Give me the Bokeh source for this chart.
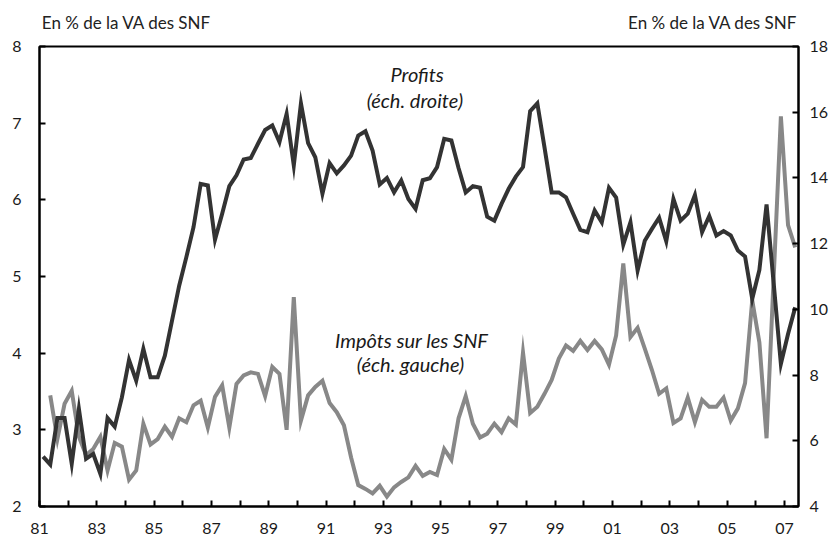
import math
from bokeh.plotting import figure
from bokeh.models import Range1d, LinearAxis, FixedTicker, Label
from bokeh.embed import file_html
from bokeh.resources import INLINE

# Quarterly data, 1981Q1 .. 2007Q2
start_year = 1981

# Profits, % of value added of non-financial corporations (right scale)
profits = [
    5.52, 5.28, 6.69, 6.69, 5.30, 6.97, 5.45, 5.60, 4.99, 6.69,
    6.43, 7.32, 8.46, 7.83, 8.80, 7.93, 7.93, 8.59, 9.66, 10.72,
    11.59, 12.50, 13.82, 13.77, 12.12, 12.91, 13.75, 14.08, 14.56, 14.61,
    15.04, 15.46, 15.60, 15.09, 15.95, 14.38, 16.27, 15.06, 14.63, 13.52,
    14.45, 14.14, 14.38, 14.68, 15.29, 15.42, 14.83, 13.80, 14.00, 13.56,
    13.92, 13.36, 13.06, 13.93, 13.99, 14.33, 15.19, 15.14, 14.30, 13.56,
    13.75, 13.70, 12.82, 12.70, 13.21, 13.67, 14.04, 14.33, 16.03, 16.27,
    14.93, 13.56, 13.56, 13.41, 12.91, 12.42, 12.35, 13.01, 12.65, 13.70,
    13.40, 11.97, 12.65, 11.18, 12.09, 12.45, 12.79, 12.07, 13.36, 12.70,
    12.91, 13.48, 12.35, 12.84, 12.25, 12.38, 12.25, 11.79, 11.61, 10.32,
    11.20, 13.19, 10.78, 8.34, 9.25, 10.06,
]

# Taxes on non-financial corporations (left scale)
impots = [
    float("nan"), 3.45, 2.88, 3.34, 3.51, 2.91, 2.67, 2.75, 2.91, 2.47,
    2.83, 2.78, 2.35, 2.47, 3.08, 2.81, 2.88, 3.04, 2.91, 3.15,
    3.10, 3.32, 3.38, 3.03, 3.43, 3.58, 3.03, 3.60, 3.71, 3.75,
    3.73, 3.44, 3.82, 3.73, 3.00, 4.73, 3.12, 3.45, 3.56, 3.64,
    3.35, 3.23, 3.06, 2.64, 2.28, 2.23, 2.17, 2.27, 2.13, 2.25,
    2.32, 2.38, 2.53, 2.40, 2.45, 2.41, 2.75, 2.61, 3.15, 3.44,
    3.08, 2.90, 2.95, 3.08, 2.97, 3.15, 3.07, 4.01, 3.22, 3.30,
    3.47, 3.65, 3.93, 4.10, 4.03, 4.16, 4.04, 4.16, 4.05, 3.85,
    4.23, 5.17, 4.21, 4.33, 4.06, 3.78, 3.47, 3.54, 3.09, 3.15,
    3.42, 3.10, 3.39, 3.30, 3.30, 3.42, 3.12, 3.28, 3.61, 4.69,
    4.14, 2.89, 5.00, 7.09, 5.67, 5.38,
]

x_ticks = list(range(1981, 2008, 2))
x_minor_ticks = list(range(1982, 2007, 2))
x_tick_labels = ["81", "83", "85", "87", "89", "91", "93", "95", "97", "99",
                 "01", "03", "05", "07"]
left_ticks = [2, 3, 4, 5, 6, 7, 8]
right_ticks = [4, 6, 8, 10, 12, 14, 16, 18]

unit_text = "En % de la VA des SNF"

# quarter mid-points on a time axis
quarters = [start_year + (i + 0.5) / 4 for i in range(len(profits))]

FONT = "Lato"
DARK = "#333333"
GREY = "#888888"

p = figure(frame_width=759, frame_height=460,
           x_range=Range1d(1981, 2007.49), y_range=Range1d(2, 8),
           output_backend="svg", toolbar_location=None,
           min_border_left=39, min_border_top=46,
           min_border_right=30, min_border_bottom=36)
p.extra_y_ranges = {"right": Range1d(4, 18)}

p.xgrid.visible = False
p.ygrid.visible = False
p.outline_line_color = "black"
p.outline_line_width = 2
p.outline_line_alpha = 1
p.background_fill_color = "white"
p.border_fill_color = "white"

right_axis = LinearAxis(y_range_name="right")
p.add_layout(right_axis, "right")

for ax in [p.xaxis[0], p.yaxis[0], right_axis]:
    ax.axis_line_width = 2
    ax.axis_line_color = "black"
    ax.major_tick_line_width = 2
    ax.major_tick_line_color = "black"
    ax.major_tick_in = 6
    ax.major_tick_out = 0
    ax.minor_tick_in = 6
    ax.minor_tick_out = 0
    ax.minor_tick_line_width = 2
    ax.minor_tick_line_color = "black"
    ax.major_label_text_font = FONT
    ax.major_label_text_font_size = "16px"
    ax.major_label_text_color = "#1a1a1a"

p.xaxis[0].ticker = FixedTicker(ticks=x_ticks, minor_ticks=x_minor_ticks)
p.xaxis[0].major_label_overrides = {t: l for t, l in zip(x_ticks, x_tick_labels)}
p.xaxis[0].major_label_standoff = 16

p.yaxis[0].ticker = FixedTicker(ticks=left_ticks, minor_ticks=[])
p.yaxis[0].major_label_standoff = 18
right_axis.ticker = FixedTicker(ticks=right_ticks, minor_ticks=[])
right_axis.major_label_standoff = 11

# unit captions above the frame (an unlined axis carrying the two captions)
cap_pos = [1984.04, 2004.5]
cap_axis = LinearAxis(ticker=FixedTicker(ticks=cap_pos, minor_ticks=[]))
cap_axis.major_label_overrides = {c: unit_text for c in cap_pos}
cap_axis.axis_line_color = None
cap_axis.major_tick_line_color = None
cap_axis.minor_tick_line_color = None
cap_axis.major_tick_in = 0
cap_axis.major_tick_out = 0
cap_axis.major_label_standoff = 14
cap_axis.major_label_text_font = FONT
cap_axis.major_label_text_font_size = "17px"
cap_axis.major_label_text_color = "#222222"
p.add_layout(cap_axis, "above")

# series
p.line(quarters, impots, line_color=GREY, line_width=4, line_join="miter")
p.line(quarters, profits, line_color=DARK, line_width=4, line_join="miter",
       y_range_name="right")

# annotations inside the chart
for txt, x, y in [("Profits", 1994.18, 7.635), ("(éch. droite)", 1994.1, 7.296),
                  ("Impôts sur les SNF", 1993.99, 4.167), ("(éch. gauche)", 1993.95, 3.854)]:
    p.add_layout(Label(x=x, y=y, text=txt, text_font=FONT, text_font_style="italic",
                       text_font_size="20px", text_color="#1a1a1a",
                       text_align="center", text_baseline="middle"))

open("out.html", "w").write(file_html(p, INLINE))
